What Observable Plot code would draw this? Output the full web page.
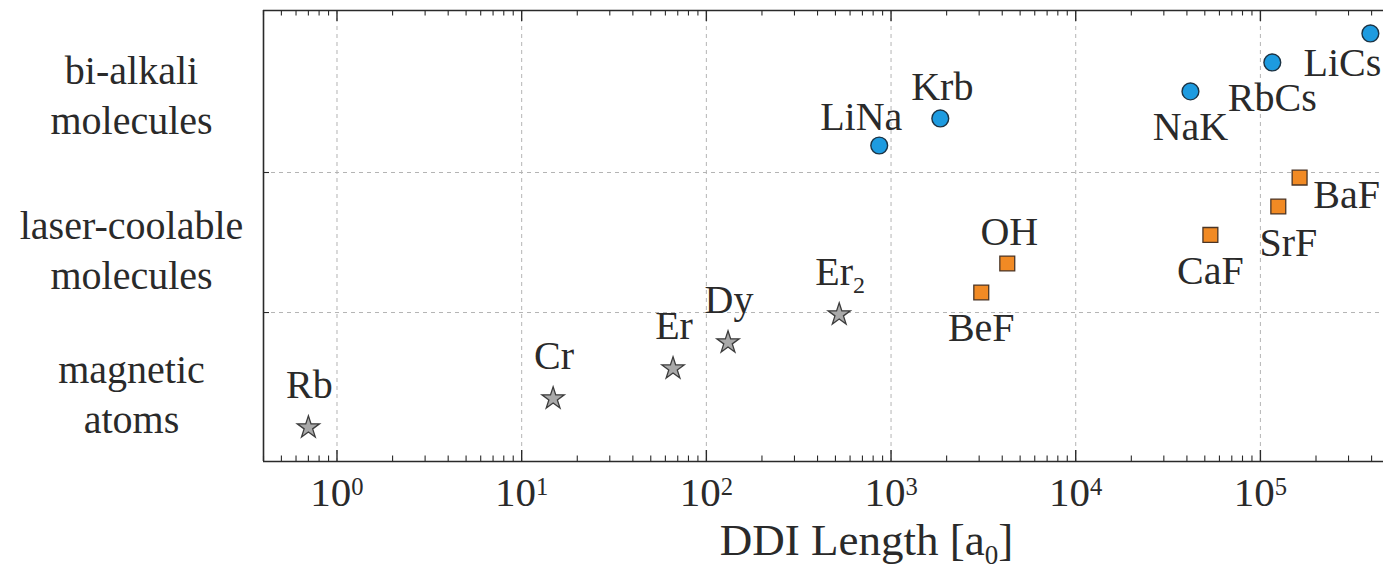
<!DOCTYPE html>
<html><head><meta charset="utf-8">
<script src="https://cdn.jsdelivr.net/npm/d3@7"></script>
<script src="https://cdn.jsdelivr.net/npm/@observablehq/plot@0.6"></script>
<style>body{margin:0;background:#fff;overflow:hidden}</style>
</head><body><div id="chart"></div>
<script>
// ---- data (DDI length in Bohr radii, row position on the category axis) ----
const atomNames = ["Rb", "Cr", "Er", "Dy", "Er_2"];
const atomDDI = [0.70, 14.8, 66, 131, 524];
const atomRow = [0.179, 0.386, 0.600, 0.786, 0.986];
const atomLabelPos = ["atom-n", "atom-n", "atom-n", "atom-n", "atom-n"];

const laserNames = ["BeF", "OH", "CaF", "SrF", "BaF"];
const laserDDI = [3080, 4260, 53600, 125000, 163000];
const laserRow = [1.143, 1.350, 1.554, 1.757, 1.964];
const laserLabelPos = ["s", "mol-n", "s", "se", "e"];

const alkaliNames = ["LiNa", "Krb", "NaK", "RbCs", "LiCs"];
const alkaliDDI = [863, 1848, 41800, 116000, 394000];
const alkaliRow = [2.193, 2.386, 2.579, 2.786, 2.993];
const alkaliLabelPos = ["nw", "mol-n", "s", "s", "sw"];

const groupLabels = ["bi-alkali\nmolecules", "laser-coolable\nmolecules", "magnetic\natoms"];
const groupRow = [2.571, 1.464, 0.429];

const decadeTicks = [1, 10, 100, 1e3, 1e4, 1e5];
const rowGrid = [1, 2];
const xDomain = [0.4, 4.64e5];
const yDomain = [-0.064, 3.157];
const xLabel = "DDI Length [a_0]";

// ---- build tables ----
function table(names, ddi, row, pos, group) {
  return names.map((n, i) => ({name: n, ddi: ddi[i], row: row[i], pos: pos[i], group}));
}
const atoms = table(atomNames, atomDDI, atomRow, atomLabelPos, "atom");
const lasers = table(laserNames, laserDDI, laserRow, laserLabelPos, "laser");
const alkali = table(alkaliNames, alkaliDDI, alkaliRow, alkaliLabelPos, "alkali");
const all = [...atoms, ...lasers, ...alkali];
const groups = groupLabels.map((g, i) => ({label: g, row: groupRow[i]}));

const minorTicks = [];
for (let e = -1; e <= 5; e++) for (let k = 2; k <= 9; k++) {
  const v = k * Math.pow(10, e);
  if (v >= xDomain[0] && v <= xDomain[1]) minorTicks.push(v);
}

const labelOffset = {
  "atom-n": [1, -42], "mol-n": [2, -31], "s": [0, 36], "nw": [-18, -28],
  "sw": [-28, 30], "se": [10, 37], "e": [47, 18]
};

const W = 1383, H = 570, mT = 10, mB = 109, mL = 263, mR = 0;
const frameH = H - mT - mB;
const ink = "#2a2a2a";
const font = "Liberation Serif, Times New Roman, serif";

const labelMarks = Object.entries(labelOffset).map(([k, [dx, dy]]) =>
  Plot.text(all.filter(d => d.pos === k), {
    x: "ddi", y: "row", text: "name", dx, dy,
    fontSize: 40, fill: ink, lineAnchor: "middle", textAnchor: "middle"
  })
);

const chart = Plot.plot({
  width: W, height: H,
  marginTop: mT, marginBottom: mB, marginLeft: mL, marginRight: mR,
  style: {fontFamily: font, background: "#fff", color: ink},
  x: {type: "log", domain: xDomain, axis: null},
  y: {domain: yDomain, axis: null},
  marks: [
    // grid
    Plot.ruleX(decadeTicks, {x: d => d, stroke: "#b4b4b4", strokeWidth: 1, strokeDasharray: "4,4"}),
    Plot.ruleY(rowGrid, {y: d => d, stroke: "#b4b4b4", strokeWidth: 1, strokeDasharray: "4,4"}),
    // frame (left, top, bottom)
    Plot.ruleX([xDomain[0]], {x: d => d, stroke: ink, strokeWidth: 1.6}),
    Plot.ruleY([yDomain[0], yDomain[1]], {y: d => d, stroke: ink, strokeWidth: 1.6}),
    // inward ticks bottom
    Plot.ruleX(decadeTicks, {x: d => d, insetTop: frameH - 11, stroke: ink, strokeWidth: 1.4}),
    Plot.ruleX(minorTicks, {x: d => d, insetTop: frameH - 5.5, stroke: ink, strokeWidth: 1.1}),
    // inward ticks top
    Plot.ruleX(decadeTicks, {x: d => d, insetBottom: frameH - 11, stroke: ink, strokeWidth: 1.4}),
    Plot.ruleX(minorTicks, {x: d => d, insetBottom: frameH - 5.5, stroke: ink, strokeWidth: 1.1}),
    // inward ticks left
    Plot.ruleY(rowGrid, {y: d => d, insetRight: (W - mL - mR) - 6, stroke: ink, strokeWidth: 1.1}),
    // x axis tick labels
    Plot.axisX(decadeTicks, {
      anchor: "bottom", tickSize: 0, tickPadding: 15, fontSize: 41, label: null,
      tickFormat: d => "10^" + Math.round(Math.log10(d)), fill: ink
    }),
    // x axis title
    Plot.text([xLabel], {frameAnchor: "bottom", dx: 43, dy: 79, fontSize: 45, fill: ink, lineAnchor: "middle"}),
    // category labels
    Plot.text(groups, {
      y: "row", text: "label", frameAnchor: "left", dx: -132, textAnchor: "middle",
      lineAnchor: "middle", lineHeight: 1.25, fontSize: 40, fill: ink
    }),
    // points
    Plot.dot(atoms, {x: "ddi", y: "row", symbol: "star", r: 7, fill: "#a9a9a9", stroke: "#3c3c3c", strokeWidth: 1.3}),
    Plot.dot(lasers, {x: "ddi", y: "row", symbol: "square", r: 8.4, fill: "#f18a24", stroke: "#4a3526", strokeWidth: 1.3}),
    Plot.dot(alkali, {x: "ddi", y: "row", symbol: "circle", r: 8.4, fill: "#1d9be0", stroke: "#1c3344", strokeWidth: 1.4}),
    ...labelMarks
  ]
});

document.getElementById("chart").appendChild(chart);

// rich text: ^ superscript, _ subscript
d3.select(chart).selectAll("text").each(function () {
  if (this.querySelector("tspan")) return;
  const s = this.textContent;
  const m = s.match(/^(.*?)([\^_])(\w+)(.*)$/);
  if (!m) return;
  const fs = parseFloat(getComputedStyle(this).fontSize) || 36;
  const small = fs * 0.6;
  const shift = m[2] === "^" ? -0.27 * fs : 0.2 * fs;
  const t = d3.select(this);
  t.text("");
  t.append("tspan").text(m[1]);
  t.append("tspan").attr("font-size", small).attr("dy", shift).text(m[3]);
  if (m[4]) t.append("tspan").attr("dy", -shift).text(m[4]);
});
</script>
</body></html>
